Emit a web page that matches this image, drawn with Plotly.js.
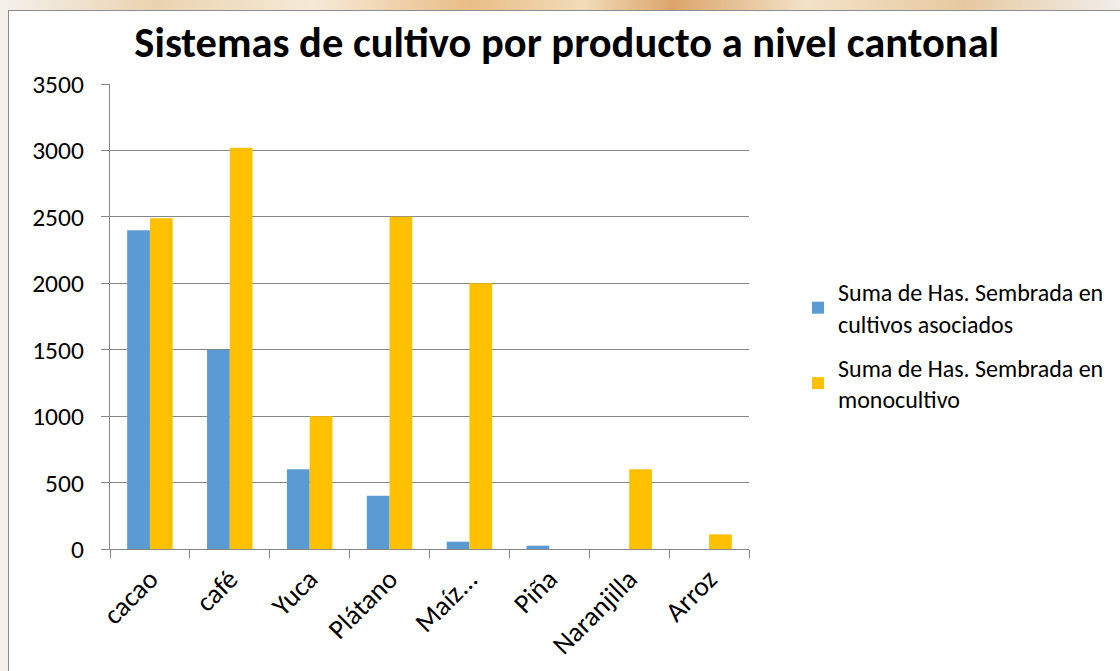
<!DOCTYPE html>
<html>
<head>
<meta charset="utf-8">
<script src="https://cdn.plot.ly/plotly-3.0.1.min.js"></script>
<style>
  html, body { margin: 0; padding: 0; background: #ffffff; }
  #wrap { position: relative; width: 1120px; height: 671px; overflow: hidden;
    background: linear-gradient(90deg, #f4f1ec 0%, #ead3b0 14%, #f6ead8 28%, #e9bd86 42%, #f2dcb9 52%, #dba56a 60%, #f3e2c8 72%, #e6c9a0 86%, #f1eeea 100%); }
  #frame { position: absolute; left: 8px; top: 10px; width: 1120px; height: 670px;
    background: #ffffff; border: 1px solid #8c8c8c; }
  #chart { position: absolute; left: 0; top: 0; width: 1120px; height: 671px; }
</style>
</head>
<body>
<div id="wrap">
  <div id="frame"></div>
  <div id="chart"></div>
</div>
<script>
const categories = ["cacao", "café", "Yuca", "Plátano", "Maíz...", "Piña", "Naranjilla", "Arroz"];
const asociados = [2400, 1500, 600, 400, 55, 25, 0, 0];
const monocultivo = [2490, 3020, 1000, 2500, 2000, 0, 600, 110];
const seriesNames = ["Suma de Has. Sembrada en<br>cultivos asociados", "Suma de Has. Sembrada en<br>monocultivo"];
const yTicks = [0, 500, 1000, 1500, 2000, 2500, 3000, 3500];

const FONT = "Calibri, Carlito, 'Open Sans', 'Liberation Sans', sans-serif";

const traces = [
  { type: "bar", x: categories, y: asociados, name: seriesNames[0], legendgroup: "a",
    marker: { color: "#5B9BD5" } },
  { type: "bar", x: categories, y: monocultivo, name: seriesNames[1], legendgroup: "b",
    marker: { color: "#FFC000" } }
];

const layout = {
  width: 1120, height: 671,
  paper_bgcolor: "rgba(0,0,0,0)", plot_bgcolor: "rgba(0,0,0,0)",
  margin: { l: 110, r: 370, t: 84, b: 122 },
  barmode: "group", bargap: 0.43, bargroupgap: 0,
  title: { text: "<b>Sistemas de cultivo por producto a nivel cantonal</b>",
    font: { family: FONT, size: 42.5, color: "#000000" },
    x: 0.506, xanchor: "center", y: 0.937, yanchor: "middle" },
  xaxis: { type: "category", tickangle: -45, showgrid: false,
    showline: true, linecolor: "#868686", linewidth: 1,
    ticks: "outside", ticklen: 8, tickcolor: "#868686", tickson: "boundaries",
    ticklabelstandoff: 2,
    tickfont: { family: FONT, size: 27.5, color: "#000000" } },
  yaxis: { range: [0, 3500], tickvals: yTicks, showgrid: true, gridcolor: "#868686", gridwidth: 1,
    zeroline: false, showline: true, linecolor: "#868686", linewidth: 1,
    ticks: "outside", ticklen: 8, tickcolor: "#868686", ticklabelstandoff: 12,
    tickfont: { family: FONT, size: 25.5, color: "#000000" } },
  showlegend: true,
  legend: { x: 1.075, xanchor: "left", y: 0.6, yanchor: "top",
    xref: "paper", traceorder: "grouped", tracegroupgap: 10,
    font: { family: FONT, size: 24, color: "#000000" },
    bgcolor: "rgba(0,0,0,0)", itemwidth: 30 }
};

Plotly.newPlot("chart", traces, layout, { displayModeBar: false, staticPlot: true });
</script>
</body>
</html>
